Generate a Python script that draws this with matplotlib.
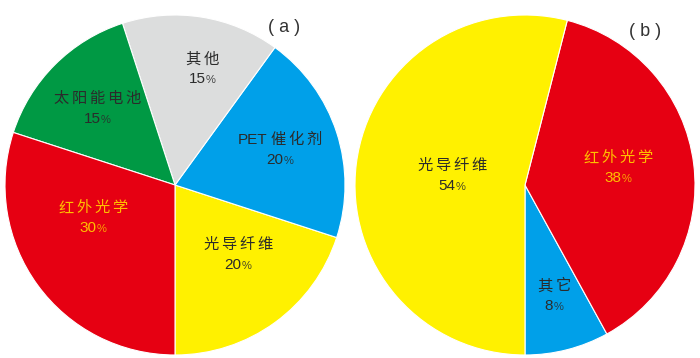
import matplotlib
matplotlib.use("Agg")
import matplotlib.pyplot as plt
from matplotlib.offsetbox import TextArea, HPacker, VPacker, AnnotationBbox

# ---- data ----
labels_a = ["光导纤维", "PET催化剂", "其他", "太阳能电池", "红外光学"]
values_a = [20, 20, 15, 15, 30]
labels_b = ["其它", "红外光学", "光导纤维"]
values_b = [8, 38, 54]
panel_titles = ["( a )", "( b )"]

# ---- styles ----
colors_a = ["#FFF100", "#00A0E9", "#DCDDDD", "#009944", "#E60012"]
colors_b = ["#00A0E9", "#E60012", "#FFF100"]
txtcol_a = ["#2b2b2b", "#2b2b2b", "#2b2b2b", "#2b2b2b", "#FFC000"]
txtcol_b = ["#2b2b2b", "#FFC000", "#2b2b2b"]

W, H = 700, 358
# layout in pixel coords (y from top)
center_a, center_b, radius = (175, 185), (525, 185), 170
labpos_a = [(238, 255), (280, 150), (202, 69), (97, 109), (93, 218)]
labpos_b = [(554, 296), (618, 168), (452, 176)]
titlepos = [(284, 28), (645, 32)]

FAM = ["Liberation Sans", "Noto Sans CJK SC", "DejaVu Sans"]
plt.rcParams["font.family"] = FAM

fig = plt.figure(figsize=(W / 100, H / 100), dpi=100)
ax = fig.add_axes([0, 0, 1, 1])


def py(y):
    return H - y


def draw_pie(vals, cols, center):
    ax.pie(vals, colors=cols, startangle=-90, counterclock=True,
           center=(center[0], py(center[1])), radius=radius,
           wedgeprops=dict(edgecolor="white", linewidth=0.8),
           frame=True)


def name_box(name, col):
    # group ASCII runs together, CJK chars separately (letter-spaced)
    parts, cur = [], ""
    for ch in name:
        if ord(ch) < 0x2E80:
            cur += ch
        else:
            if cur:
                parts.append(cur)
                cur = ""
            parts.append(ch)
    if cur:
        parts.append(cur)
    kids = [TextArea(p, textprops=dict(fontsize=11, color=col, family=FAM))
            for p in parts]
    return HPacker(children=kids, align="baseline", pad=0, sep=2)


def draw_label(name, val, pos, col):
    t1 = name_box(name, col)
    n = TextArea(str(val), textprops=dict(fontsize=11, color=col, family=FAM))
    p = TextArea("%", textprops=dict(fontsize=8, color=col, family=FAM, alpha=0.85))
    line2 = HPacker(children=[n, p], align="baseline", pad=0, sep=0)
    box = VPacker(children=[t1, line2], align="center", pad=0, sep=4)
    ab = AnnotationBbox(box, (pos[0], py(pos[1])), xycoords="data",
                        box_alignment=(0.5, 0.5), frameon=False, pad=0)
    ax.add_artist(ab)


draw_pie(values_a, colors_a, center_a)
draw_pie(values_b, colors_b, center_b)
ax.set_xlim(0, W)
ax.set_ylim(0, H)
ax.axis("off")

for name, v, pos, c in zip(labels_a, values_a, labpos_a, txtcol_a):
    draw_label(name, v, pos, c)
for name, v, pos, c in zip(labels_b, values_b, labpos_b, txtcol_b):
    draw_label(name, v, pos, c)

for t, pos in zip(panel_titles, titlepos):
    ax.text(pos[0], py(pos[1]), t, fontsize=13, color="#333333",
            ha="center", va="center")

fig.savefig("out.png", dpi=100)
